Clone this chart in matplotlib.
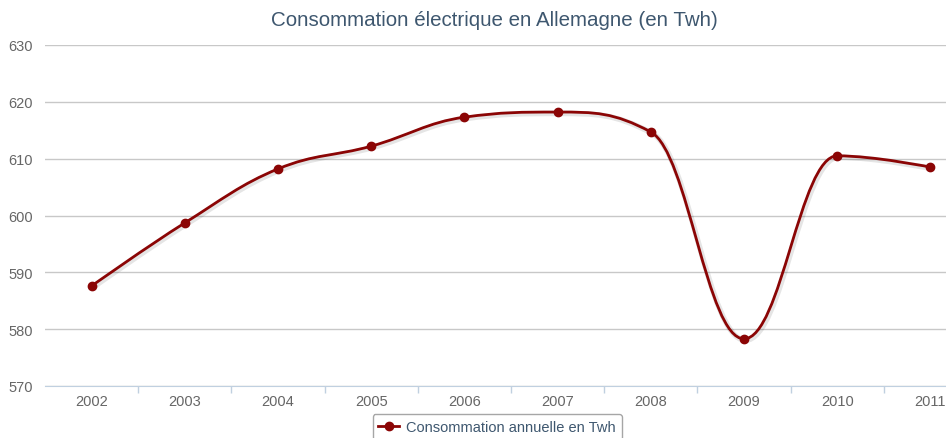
import matplotlib
matplotlib.use('Agg')
import matplotlib.pyplot as plt
from matplotlib.path import Path
from matplotlib.patches import PathPatch
from matplotlib.lines import Line2D
import matplotlib.patheffects as pe

plt.rcParams['font.family'] = ['Liberation Sans', 'DejaVu Sans']

years = ['2002', '2003', '2004', '2005', '2006', '2007', '2008', '2009', '2010', '2011']
consommation = [587.6, 598.7, 608.2, 612.2, 617.3, 618.2, 614.7, 578.3, 610.5, 608.5]
title = 'Consommation électrique en Allemagne (en Twh)'
series_name = 'Consommation annuelle en Twh'
line_color = '#8B0505'


def spline_path(xs, ys, smoothing=1.5):
    """Highcharts-like spline: cubic bezier segments through each point."""
    denom = smoothing + 1
    n = len(xs)
    right = [None] * n
    verts = [(xs[0], ys[0])]
    codes = [Path.MOVETO]
    for i in range(1, n):
        x, y = xs[i], ys[i]
        lx, ly = xs[i - 1], ys[i - 1]
        lcx, lcy = x, y
        if i < n - 1:
            nx, ny = xs[i + 1], ys[i + 1]
            lcx = (smoothing * x + lx) / denom
            lcy = (smoothing * y + ly) / denom
            rcx = (smoothing * x + nx) / denom
            rcy = (smoothing * y + ny) / denom
            corr = (rcy - lcy) * (rcx - x) / (rcx - lcx) + y - rcy
            lcy += corr
            rcy += corr
            if lcy > ly and lcy > y:
                lcy = max(ly, y)
                rcy = 2 * y - lcy
            elif lcy < ly and lcy < y:
                lcy = min(ly, y)
                rcy = 2 * y - lcy
            if rcy > ny and rcy > y:
                rcy = max(ny, y)
                lcy = 2 * y - rcy
            elif rcy < ny and rcy < y:
                rcy = min(ny, y)
                lcy = 2 * y - rcy
            right[i] = (rcx, rcy)
        prev_ctrl = right[i - 1] if right[i - 1] is not None else (lx, ly)
        verts += [prev_ctrl, (lcx, lcy), (x, y)]
        codes += [Path.CURVE4] * 3
    return Path(verts, codes)


fig = plt.figure(figsize=(9.46, 4.39), dpi=100)
ax = fig.add_axes([45 / 946, 1 - 387 / 439, 932 / 946, 341 / 439])

x = list(range(len(years)))
path = spline_path(x, consommation)
patch = PathPatch(path, facecolor='none', edgecolor=line_color, lw=2, zorder=3,
                  path_effects=[pe.SimpleLineShadow(offset=(1, -1), shadow_color='#000000', alpha=0.10, linewidth=4),
                                pe.Normal()])
ax.add_patch(patch)
ax.plot(x, consommation, 'o', color=line_color, ms=6, zorder=4)

ax.set_xlim(-0.5, len(years) - 0.5)
ax.set_ylim(570, 630)
ax.set_yticks(range(570, 631, 10))
ax.set_xticks(x)
ax.set_xticklabels(years)
ax.set_xticks([i + 0.5 for i in x[:-1]], minor=True)

for s in ['top', 'right', 'left']:
    ax.spines[s].set_visible(False)
ax.spines['bottom'].set_color('#C0D0E0')
ax.grid(axis='y', color='#C8C8C8', lw=1)
ax.set_axisbelow(True)

ax.tick_params(axis='x', which='major', length=0, labelsize=10.5, colors='#666666', pad=6)
ax.tick_params(axis='x', which='minor', length=5, color='#C0D0E0', width=1)
ax.tick_params(axis='y', length=0, labelsize=10.5, colors='#666666', pad=9)

fig.text(494 / 946, 1 - 20 / 439, title, ha='center', va='center', fontsize=14.8, color='#3E576F')

handle = Line2D([], [], color=line_color, lw=2, marker='o', ms=6)
leg = fig.legend([handle], [series_name], loc='upper center', bbox_to_anchor=(497 / 946, 1 - 415 / 439),
                 frameon=True, fancybox=True, fontsize=10.5, handlelength=1.4, borderpad=0.4,
                 handletextpad=0.5, borderaxespad=0)
leg.get_frame().set_edgecolor('#909090')
leg.get_frame().set_linewidth(1)
for t in leg.get_texts():
    t.set_color('#3E576F')

fig.savefig('out.png', dpi=100)
